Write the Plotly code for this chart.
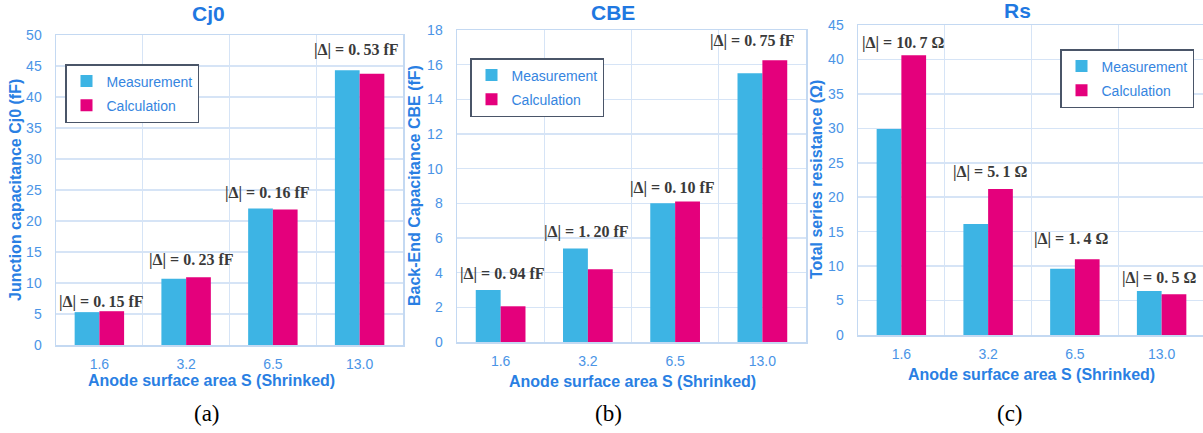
import plotly.graph_objects as go

W, H = 1203, 433

# ---------------- data ----------------
categories = ["1.6", "3.2", "6.5", "13.0"]

cj0_meas = [5.3, 10.7, 22.0, 44.3]
cj0_calc = [5.45, 10.93, 21.84, 43.77]
cj0_delta = ["0.15", "0.23", "0.16", "0.53"]

cbe_meas = [3.0, 5.4, 8.0, 15.5]
cbe_calc = [2.06, 4.2, 8.1, 16.25]
cbe_delta = ["0.94", "1.20", "0.10", "0.75"]

rs_meas = [29.9, 16.1, 9.6, 6.4]
rs_calc = [40.6, 21.2, 11.0, 5.9]
rs_delta = ["10.7", "5.1", "1.4", "0.5"]

# ---------------- styles ----------------
C_MEAS = "#3DB4E4"
C_CALC = "#E4007C"
C_TITLE = "#1F78E1"
C_AXT = "#2A7FE3"
C_TICK = "#4A94E6"
C_LEG = "#3585E0"
C_GRID = "#D6E4F6"
C_LINE = "#C4D9F2"
C_DELTA = "#3A3A3A"
SANS = "Liberation Sans, Arial, sans-serif"
SERIF = "Liberation Serif, Times New Roman, serif"


def px_x(v):
    return v / W


def px_y(v):
    return 1 - v / H


panels = [
    dict(name="Cj0", meas=cj0_meas, calc=cj0_calc, delta=cj0_delta, unit="fF",
         ytitle="Junction capacitance Cj0 (fF)", yrange=[0, 50], dtick=5,
         x0=56, x1=403, y0=35, y1=345, xr=[-0.5, 3.5], mirror=True,
         title_xy=(208, 13), ytitle_xy=(15, 190), xtitle_xy=(211, 380), cap="(a)", cap_xy=(207, 413),
         legend=dict(x=65, y=64, xanchor="left"),
         dy=[9, 17, 16, 20], dx=[2.5, 5, -5, -3]),
    dict(name="CBE", meas=cbe_meas, calc=cbe_calc, delta=cbe_delta, unit="fF",
         ytitle="Back-End Capacitance CBE (fF)", yrange=[0, 18], dtick=2,
         x0=457, x1=806, y0=30, y1=342, xr=[-0.5, 3.5], mirror=True,
         title_xy=(613, 12), ytitle_xy=(415, 186), xtitle_xy=(632, 381), cap="(b)", cap_xy=(608, 413),
         legend=dict(x=470, y=58, xanchor="left"),
         dy=[16, 16, 14, 19], dx=[1.5, -1, -2.5, -9.5]),
    dict(name="Rs", meas=rs_meas, calc=rs_calc, delta=rs_delta, unit="Ω",
         ytitle="Total series resistance (Ω)", yrange=[0, 45], dtick=5,
         x0=858, x1=1203, y0=25, y1=335, xr=[-0.5, 3.477], mirror=False,
         title_xy=(1017, 11), ytitle_xy=(816, 180), xtitle_xy=(1031, 374), cap="(c)", cap_xy=(1010, 413),
         legend=dict(x=1194, y=49, xanchor="right"),
         dy=[12, 17, 20, 13], dx=[2, 1.5, -3.5, -3]),
]

fig = go.Figure()
annotations = []
layout = {}

for i, p in enumerate(panels):
    k = "" if i == 0 else str(i + 1)
    xa, ya = "x" + k, "y" + k
    leg = "legend" + k
    fig.add_trace(go.Bar(x=categories, y=p["meas"], name="Measurement", marker_color=C_MEAS,
                         marker_line_width=0, xaxis=xa, yaxis=ya, legend=leg, legendgroup="m" + k))
    fig.add_trace(go.Bar(x=categories, y=p["calc"], name="Calculation", marker_color=C_CALC,
                         marker_line_width=0, xaxis=xa, yaxis=ya, legend=leg, legendgroup="c" + k))

    layout["xaxis" + k] = dict(
        domain=[px_x(p["x0"]), px_x(p["x1"])], anchor=ya, type="category",
        range=p["xr"], tickson="boundaries", ticks="", showgrid=True, gridcolor=C_GRID,
        gridwidth=1, showline=True, linecolor=C_LINE, linewidth=1.5, mirror=True, automargin=False,
        tickfont=dict(family=SANS, size=14, color=C_TICK), ticklabelstandoff=6, fixedrange=True)
    layout["yaxis" + k] = dict(
        domain=[px_y(p["y1"]), px_y(p["y0"])], anchor=xa, range=p["yrange"], dtick=p["dtick"],
        showgrid=True, gridcolor=C_GRID, gridwidth=1.5, zeroline=False, showline=True,
        linecolor=C_LINE, linewidth=1.5, mirror=p["mirror"], ticks="", automargin=False,
        tickfont=dict(family=SANS, size=14, color=C_TICK), ticklabelstandoff=10, fixedrange=True)
    lg = p["legend"]
    layout[leg] = dict(
        x=px_x(lg["x"]), y=px_y(lg["y"]), xanchor=lg["xanchor"], yanchor="top",
        xref="paper", yref="paper", bgcolor="white", bordercolor="#4A5568", borderwidth=1.5,
        font=dict(family=SANS, size=14, color=C_LEG), traceorder="grouped", tracegroupgap=3,
        itemwidth=30)

    # subplot title
    annotations.append(dict(text="<b>%s</b>" % p["name"], x=px_x(p["title_xy"][0]), y=px_y(p["title_xy"][1]),
                            xref="paper", yref="paper", showarrow=False, xanchor="center", yanchor="middle",
                            font=dict(family=SANS, size=21, color=C_TITLE)))
    # axis titles
    annotations.append(dict(text="<b>%s</b>" % p["ytitle"], x=px_x(p["ytitle_xy"][0]), y=px_y(p["ytitle_xy"][1]),
                            xref="paper", yref="paper", showarrow=False, textangle=-90,
                            xanchor="center", yanchor="middle", font=dict(family=SANS, size=16, color=C_AXT)))
    annotations.append(dict(text="<b>Anode surface area S (Shrinked)</b>", x=px_x(p["xtitle_xy"][0]),
                            y=px_y(p["xtitle_xy"][1]), xref="paper", yref="paper", showarrow=False,
                            xanchor="center", yanchor="middle", font=dict(family=SANS, size=16, color=C_AXT)))
    # caption
    annotations.append(dict(text=p["cap"], x=px_x(p["cap_xy"][0]), y=px_y(p["cap_xy"][1]),
                            xref="paper", yref="paper", showarrow=False, xanchor="center", yanchor="middle",
                            font=dict(family=SERIF, size=23, color="black")))
    # delta labels (category index positions)
    for j in range(len(categories)):
        top = max(p["meas"][j], p["calc"][j])
        val = p["delta"][j].replace(".", ".\u2009")
        annotations.append(dict(text="<b>|Δ| = %s %s</b>" % (val, p["unit"]), x=j, y=top,
                                xref=xa, yref=ya, showarrow=False, xanchor="center", yanchor="middle",
                                yshift=p["dy"][j], xshift=p["dx"][j],
                                font=dict(family=SERIF, size=16, color=C_DELTA)))

fig.update_layout(
    template="none",
    width=W, height=H, margin=dict(l=0, r=0, t=0, b=0, pad=0, autoexpand=False), autosize=False,
    paper_bgcolor="white", plot_bgcolor="white",
    barmode="group", bargap=0.43, bargroupgap=0,
    annotations=annotations, showlegend=True, hovermode=False,
    **layout,
)

fig.write_html("out.html", config={"displayModeBar": False, "staticPlot": True},
               post_script="document.body.style.margin='0';document.body.style.overflow='hidden';")
